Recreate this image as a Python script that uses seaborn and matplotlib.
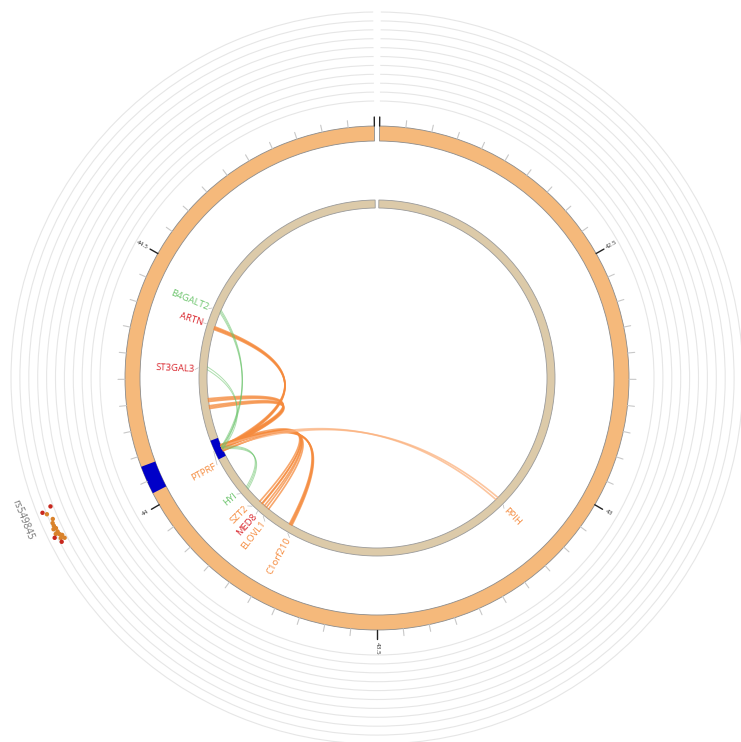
import numpy as np
import pandas as pd
import matplotlib
matplotlib.use("Agg")
import matplotlib.pyplot as plt
from matplotlib.patches import Wedge, Arc
import seaborn as sns

# region shown (chr1, Mb)
region_start = 42.0
region_end = 45.0
major_ticks = [42.5, 43.0, 43.5, 44.0, 44.5]

# PTPRF block
block_start = 44.025
block_end = 44.08

# gene labels: name, gene position (Mb), label position (Mb), colour
gene_names = ["B4GALT2", "ARTN", "ST3GAL3", "PTPRF", "HYI", "SZT2", "MED8", "ELOVL1", "C1orf210", "PPIH"]
gene_pos = [44.445, 44.40, 44.28, 44.05, 43.916, 43.87, 43.85, 43.83, 43.75, 43.125]
gene_label_pos = [44.44, 44.40, 44.275, 44.014, 43.921, 43.879, 43.848, 43.818, 43.74, 43.13]
gene_colors = ["green", "red", "red", "orange", "green", "orange", "red", "orange", "orange", "orange"]

# links from PTPRF to target positions (Mb)
link_source = [44.05, 44.05, 44.05, 44.045, 44.045, 44.055, 44.055, 44.05, 44.05, 44.05, 44.05]
link_target = [44.395, 44.17, 44.19, 43.86, 43.85, 43.835, 43.755, 43.125, 44.445, 44.28, 43.916]
link_kind = ["orange", "orange", "orange", "orange", "orange", "orange", "orange", "peach",
             "green", "green", "green"]
link_strands = [4, 3, 3, 2, 2, 2, 4, 2, 3, 2, 3]

# rs549845 association points
snp_pos = [44.073, 44.069, 44.065, 44.056, 44.051, 44.047, 44.043, 44.043, 44.038, 44.035,
           44.036, 44.033, 44.031, 44.032, 44.028, 44.026, 44.023]
snp_val = [8.3, 9.4, 9.0, 8.6, 8.8, 8.8, 8.7, 9.0, 8.7, 8.7, 9.0, 8.6, 8.4, 9.3, 8.7, 8.3, 8.8]
snp_type = ["strong", "strong", "mid", "mid", "mid", "mid", "mid", "mid", "mid", "mid",
            "mid", "mid", "mid", "strong", "mid", "mid", "strong"]

sns.set_style("white")
plt.rcParams["font.family"] = ["Open Sans", "DejaVu Sans"]

palette = {"green": "#6cc46c", "red": "#d9272e", "orange": "#f58a3c", "peach": "#fbb27f"}
bulge = {"green": 0.73, "orange": 0.16, "peach": 0.16}
gap = 0.6
R_OUT, W_OUT = 252, 15
R_IN, W_IN = 178, 8
R_LINK = R_IN - W_IN


def ang(pos):
    # clockwise degrees from top
    return gap + (pos - region_start) / (region_end - region_start) * (360 - 2 * gap)


def xy(pos, r):
    a = np.radians(ang(np.asarray(pos, dtype=float)))
    return r * np.sin(a), r * np.cos(a)


def radial_text(ax, pos, r, text, **kw):
    a = ang(pos) % 360
    m = 90 - a
    x, y = xy(pos, r)
    if a <= 180:
        rot, ha = m, "left"
    else:
        rot, ha = m + 180, "right"
    ax.text(x, y, text, rotation=rot, ha=ha, va="center", rotation_mode="anchor", **kw)


fig = plt.figure(figsize=(7.41, 7.42), dpi=100)
ax = fig.add_axes([0, 0, 1, 1])
ax.set_xlim(-377, 364)
ax.set_ylim(-364, 378)
ax.axis("off")

# background grid circles of the data track
for r in np.linspace(277, 366, 11):
    ax.add_patch(Arc((0, 0), 2 * r, 2 * r, theta1=90 - 360 + gap, theta2=90 - gap,
                     color="#e6e6e6", lw=0.8))

# outer ideogram ring
a1, a2 = ang(region_start), ang(region_end)
ax.add_patch(Wedge((0, 0), R_OUT, 90 - a2, 90 - a1, width=W_OUT,
                   facecolor="#f5b97b", edgecolor="#8c8c8c", lw=0.6))
ax.add_patch(Wedge((0, 0), R_OUT, 90 - ang(block_end), 90 - ang(block_start), width=W_OUT,
                   facecolor="#0000c8", edgecolor="none"))

# inner ring
ax.add_patch(Wedge((0, 0), R_IN, 90 - a2, 90 - a1, width=W_IN,
                   facecolor="#dccaa9", edgecolor="#9a9a9a", lw=0.6))
ax.add_patch(Wedge((0, 0), R_IN, 90 - ang(block_end), 90 - ang(block_start), width=W_IN,
                   facecolor="#0000c8", edgecolor="none"))

# ticks
minor = np.arange(region_start, region_end + 1e-9, 0.05)
for p in minor:
    is_major = abs(p * 2 - round(p * 2)) < 1e-6
    x0, y0 = xy(p, R_OUT)
    x1, y1 = xy(p, R_OUT + (9 if is_major else 7))
    ax.plot([x0, x1], [y0, y1], color="#222222" if is_major else "#c8c8c8",
            lw=1.0 if is_major else 0.8)
for p in major_ticks:
    radial_text(ax, p, R_OUT + 12, f"{p:g}", fontsize=4.5, color="#333333")

# links as quadratic bezier curves
t = np.linspace(0, 1, 80)
for s, e, kind, n in zip(link_source, link_target, link_kind, link_strands):
    offs = np.linspace(-0.004, 0.004, n) if n > 1 else [0.0]
    for o in offs:
        p0 = np.array(xy(s + o, R_LINK))
        p2 = np.array(xy(e + o, R_LINK))
        c = bulge[kind] * (p0 + p2) / 2
        curve = np.outer((1 - t) ** 2, p0) + np.outer(2 * (1 - t) * t, c) + np.outer(t ** 2, p2)
        if kind == "green":
            ax.plot(curve[:, 0], curve[:, 1], color=palette["green"], lw=0.7, alpha=0.55)
        else:
            ax.plot(curve[:, 0], curve[:, 1], color=palette[kind], lw=1.2, alpha=0.75)

# gene labels
for name, gp, lp, col in zip(gene_names, gene_pos, gene_label_pos, gene_colors):
    x0, y0 = xy(gp, R_IN + 1)
    x1, y1 = xy(lp, R_IN + 4)
    ax.plot([x0, x1], [y0, y1], color="#bbbbbb", lw=0.5)
    radial_text(ax, lp, R_IN + 5, name, fontsize=6.8, color=palette[col])

# SNP track
snp = pd.DataFrame({"pos": snp_pos, "val": snp_val, "type": snp_type})
snp["r"] = 277 + snp["val"] * 8.9
snp["x"], snp["y"] = xy(snp["pos"].values, snp["r"].values)
sns.scatterplot(data=snp, x="x", y="y", hue="type", palette={"strong": "#c8281e", "mid": "#d9822b"},
                s=10, linewidth=0, legend=False, ax=ax)
ax.set_xlabel("")
ax.set_ylabel("")
lx, ly = xy(44.07, 382)
ax.text(lx, ly, "rs549845", rotation=180 - ang(44.07), ha="center", va="center",
        rotation_mode="anchor", fontsize=7, color="#777777")

fig.savefig("out.png", dpi=100)
